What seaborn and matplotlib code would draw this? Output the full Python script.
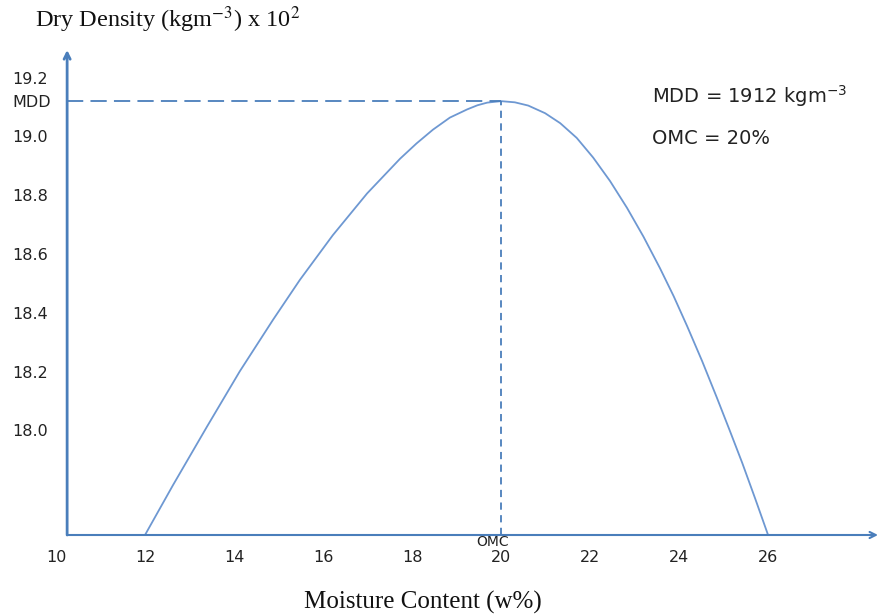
import matplotlib
matplotlib.use("Agg")
import matplotlib.pyplot as plt
import seaborn as sns
import pandas as pd

# ---- data ----
moisture = [12.00, 12.63, 13.39, 14.13, 14.88, 15.48, 16.22, 16.99, 17.73, 18.10,
            18.47, 18.85, 19.24, 19.47, 19.69, 20.00, 20.31, 20.61, 20.99, 21.33,
            21.70, 22.07, 22.45, 22.83, 23.20, 23.57, 23.88, 24.18, 24.52, 24.85,
            25.14, 25.42, 25.71, 26.00]
dry_density = [17.644, 17.814, 18.012, 18.201, 18.377, 18.512, 18.664, 18.806, 18.924, 18.976,
               19.023, 19.064, 19.092, 19.106, 19.115, 19.120, 19.116, 19.105, 19.079, 19.045,
               18.995, 18.928, 18.848, 18.757, 18.659, 18.552, 18.456, 18.355, 18.235, 18.111,
               17.999, 17.889, 17.768, 17.644]
x_ticks = [10, 12, 14, 16, 18, 20, 22, 24, 26]
y_ticks = [19.2, 19.12, 19.0, 18.8, 18.6, 18.4, 18.2, 18.0]
y_tick_labels = ["19.2", "MDD", "19.0", "18.8", "18.6", "18.4", "18.2", "18.0"]
mdd = 19.12
omc = 20.0

df = pd.DataFrame({"w": moisture, "rho": dry_density})

sns.set_theme(style="white")
plt.rcParams["font.family"] = ["DejaVu Sans"]

axis_col = "#4a7ebb"
curve_col = "#6e98d2"
txt_col = "#222222"

fig = plt.figure(figsize=(8.83, 6.14), dpi=100)
ax = fig.add_axes([56 / 883, 79 / 614, (878 - 56) / 883, (535 - 50) / 614])
xmin, xmax = 10.0, 28.47
ymin, ymax = 17.644, 19.294
ax.set_xlim(xmin, xmax)
ax.set_ylim(ymin, ymax)
for s in ax.spines.values():
    s.set_visible(False)
ax.grid(False)

sns.lineplot(data=df, x="w", y="rho", ax=ax, color=curve_col, lw=1.3,
             sort=False, estimator=None)

y_axis_x = 10.25
# axes with arrows
ax.annotate("", xy=(y_axis_x, ymax), xytext=(y_axis_x, ymin),
            arrowprops=dict(arrowstyle="->", color=axis_col, lw=2.0,
                            shrinkA=0, shrinkB=0, mutation_scale=11),
            annotation_clip=False)
ax.annotate("", xy=(xmax, ymin), xytext=(y_axis_x, ymin),
            arrowprops=dict(arrowstyle="->", color=axis_col, lw=1.5,
                            shrinkA=0, shrinkB=0, mutation_scale=11),
            annotation_clip=False)

# MDD / OMC guide lines
ax.plot([y_axis_x, omc], [mdd, mdd], color=axis_col, lw=1.3, dashes=(9, 4))
ax.plot([omc, omc], [ymin, mdd], color=axis_col, lw=1.3, dashes=(4, 3))

ax.set_xticks(x_ticks, [str(v) for v in x_ticks])
ax.set_yticks(y_ticks, y_tick_labels)
ax.tick_params(axis="x", length=0, pad=11, labelcolor=txt_col)
ax.tick_params(axis="y", length=0, pad=31.7, labelcolor=txt_col)
for lbl in ax.get_xticklabels() + ax.get_yticklabels():
    lbl.set_fontfamily("DejaVu Sans")
    lbl.set_fontsize(11.5)
for lbl in ax.get_yticklabels():
    lbl.set_horizontalalignment("left")
ax.set_xlabel("")
ax.set_ylabel("")

ax.text(omc - 0.2, ymin, "OMC", ha="center", va="top", fontsize=10,
        color=txt_col)

fig.text(35 / 883, 1 - 20 / 614, r"Dry Density (kgm$^{-3}$) x 10$^{2}$",
         family="Liberation Serif", math_fontfamily="stix", fontsize=17.5,
         ha="left", va="center", color="#111111")
fig.text(423 / 883, 1 - 602 / 614, "Moisture Content (w%)",
         family="Liberation Serif", fontsize=18, ha="center", va="center",
         color="#111111")
fig.text(652 / 883, 1 - 96 / 614, r"MDD = 1912 kgm$^{-3}$", fontsize=14,
         math_fontfamily="dejavusans", ha="left", va="center", color=txt_col)
fig.text(652 / 883, 1 - 138 / 614, "OMC = 20%", fontsize=14,
         ha="left", va="center", color=txt_col)

fig.savefig("out.png", dpi=100, facecolor="white")
